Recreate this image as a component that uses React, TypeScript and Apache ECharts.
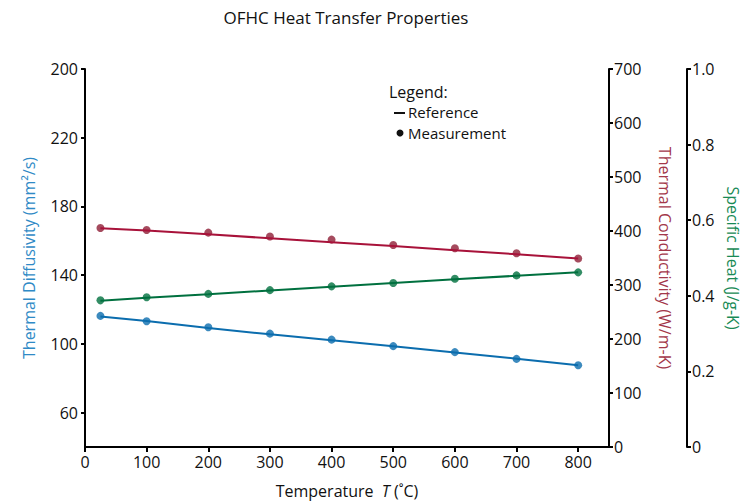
import React, { useEffect, useRef } from "react";
import * as echarts from "echarts";

const temps = [25, 100, 200, 300, 400, 500, 600, 700, 800];
const diffMeas = [116.3, 113.2, 109.7, 106.0, 102.5, 98.7, 95.2, 91.3, 87.6];
const diffRef = [116.0, 113.4, 109.2, 105.6, 102.1, 98.6, 95.0, 91.4, 87.6];
const condMeas = [405.6, 402, 397, 389.7, 384, 374, 368, 358.7, 349];
const condRef = [405, 401, 394, 386.5, 379, 372, 364.5, 357, 349];
const heatMeas = [0.388, 0.396, 0.405, 0.415, 0.425, 0.434, 0.445, 0.454, 0.462];
const heatRef = [0.387, 0.395, 0.404, 0.414, 0.424, 0.434, 0.444, 0.453, 0.462];

const xTicks = [0, 100, 200, 300, 400, 500, 600, 700, 800];
const diffTicks = [60, 100, 140, 180, 220, 260];
const diffTickLabels = ["60", "100", "140", "180", "220", "200"];
const heatTicks = [0, 0.2, 0.4, 0.6, 0.8, 1.0];
const heatTickLabels = ["0", "0.2", "0.4", "0.6", "0.8", "1.0"];

const FONT = "Open Sans";
const BLUE = "#0b6dae";
const RED = "#a8123a";
const RED_DOT = "#8e1e36";
const GREEN = "#00703f";

const pairs = (xs: number[], ys: number[]) => xs.map((x, i) => [x, ys[i]]);

export default function App() {
  const ref = useRef<HTMLDivElement>(null);
  useEffect(() => {
    if (!ref.current) return;
    const chart = echarts.init(ref.current, null, { renderer: "svg" });
    const axisLine = { show: true, lineStyle: { color: "#000", width: 2 } };
    const axisTick = { show: true, length: 4, lineStyle: { color: "#000", width: 2 } };
    const labelStyle = { color: "#111", fontSize: 16, fontFamily: FONT };
    const txt = (x: number, y: number, text: string, size = 15) => ({
      type: "text",
      x,
      y,
      style: { text, fontSize: size, fontFamily: FONT, fill: "#111", verticalAlign: "middle", lineHeight: 16 },
    });
    chart.setOption({
      animation: false,
      backgroundColor: "#fff",
      textStyle: { fontFamily: FONT },
      grid: { left: 85, right: 144, top: 69, bottom: 57, containLabel: false },
      xAxis: {
        type: "value",
        min: 0,
        max: 850,
        axisLine,
        axisTick: { ...axisTick, length: 5, customValues: xTicks },
        axisLabel: { ...labelStyle, margin: 7, customValues: xTicks },
        splitLine: { show: false },
        name: "{a|Temperature  }{b|T}{a| (˚C)}",
        nameLocation: "middle",
        nameGap: 36,
        nameTextStyle: {
          rich: {
            a: { fontSize: 16, color: "#111", fontFamily: FONT },
            b: { fontSize: 16, color: "#111", fontFamily: FONT, fontStyle: "italic" },
          },
        },
      },
      yAxis: [
        {
          type: "value",
          position: "left",
          min: 40,
          max: 260,
          axisLine,
          axisTick: { ...axisTick, customValues: diffTicks },
          axisLabel: {
            ...labelStyle,
            margin: 7,
            customValues: diffTicks,
            formatter: (v: number) => diffTickLabels[diffTicks.indexOf(v)] ?? "",
          },
          splitLine: { show: false },
          name: "Thermal Diffusivity (mm²/s)",
          nameLocation: "middle",
          nameGap: 48,
          nameTextStyle: { color: "#2f8ac6", fontSize: 16, fontFamily: FONT },
        },
        {
          type: "value",
          position: "right",
          min: 0,
          max: 700,
          interval: 100,
          axisLine,
          axisTick,
          axisLabel: { ...labelStyle, margin: 5 },
          splitLine: { show: false },
          name: "Thermal Conductivity (W/m-K)",
          nameLocation: "middle",
          nameGap: 48,
          nameRotate: -90,
          nameTextStyle: { color: "#a3374a", fontSize: 16, fontFamily: FONT },
        },
        {
          type: "value",
          position: "right",
          offset: 78,
          min: 0,
          max: 1,
          axisLine,
          axisTick: { ...axisTick, customValues: heatTicks },
          axisLabel: {
            ...labelStyle,
            margin: 5,
            customValues: heatTicks,
            formatter: (v: number) => {
              const i = heatTicks.findIndex((t) => Math.abs(t - v) < 1e-9);
              return i >= 0 ? heatTickLabels[i] : "";
            },
          },
          splitLine: { show: false },
          name: "Specific Heat (J/g-K)",
          nameLocation: "middle",
          nameGap: 38,
          nameRotate: -90,
          nameTextStyle: { color: "#188a55", fontSize: 16, fontFamily: FONT },
        },
      ],
      series: [
        { type: "line", yAxisIndex: 0, data: pairs(temps, diffRef), showSymbol: false, lineStyle: { color: BLUE, width: 2 }, itemStyle: { color: BLUE } },
        { type: "scatter", yAxisIndex: 0, data: pairs(temps, diffMeas), symbolSize: 8, itemStyle: { color: BLUE } },
        { type: "line", yAxisIndex: 1, data: pairs(temps, condRef), showSymbol: false, lineStyle: { color: RED, width: 2 }, itemStyle: { color: RED } },
        { type: "scatter", yAxisIndex: 1, data: pairs(temps, condMeas), symbolSize: 8, itemStyle: { color: RED_DOT } },
        { type: "line", yAxisIndex: 2, data: pairs(temps, heatRef), showSymbol: false, lineStyle: { color: GREEN, width: 2 }, itemStyle: { color: GREEN } },
        { type: "scatter", yAxisIndex: 2, data: pairs(temps, heatMeas), symbolSize: 8, itemStyle: { color: GREEN } },
      ],
      graphic: [
        {
          type: "text",
          x: 346,
          y: 17,
          style: { text: "OFHC Heat Transfer Properties", fontSize: 17, fontFamily: FONT, fill: "#111", align: "center", verticalAlign: "middle" },
        },
        txt(389, 92, "Legend:", 16),
        { type: "line", shape: { x1: 394, y1: 113, x2: 405, y2: 113 }, style: { stroke: "#111", lineWidth: 2 } },
        txt(408, 112, "Reference"),
        { type: "circle", shape: { cx: 400, cy: 133, r: 3.5 }, style: { fill: "#111" } },
        txt(408, 133, "Measurement"),
      ],
    });
    return () => chart.dispose();
  }, []);
  return <div ref={ref} style={{ width: 753, height: 504, position: "absolute", left: 0, top: 0 }} />;
}
